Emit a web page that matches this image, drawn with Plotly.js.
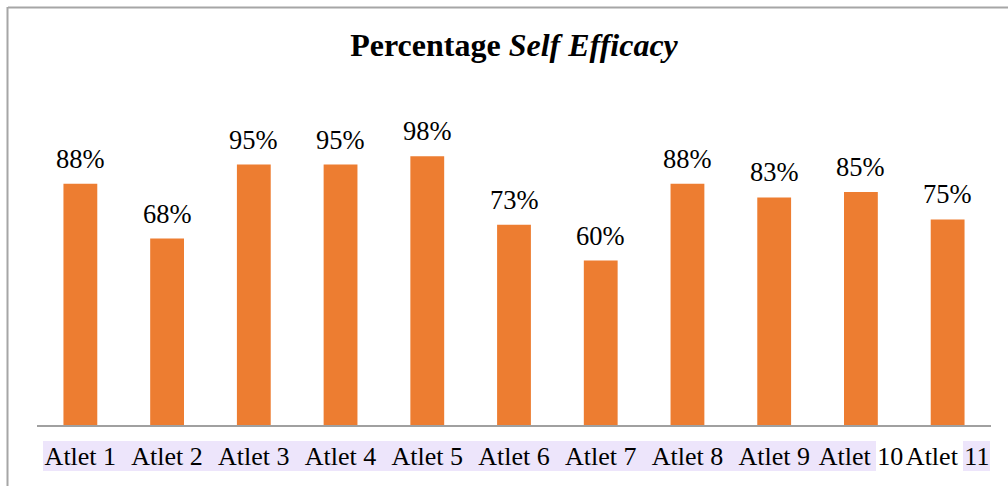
<!DOCTYPE html>
<html>
<head>
<meta charset="utf-8">
<script src="https://cdn.plot.ly/plotly-3.0.1.min.js"></script>
<style>html,body{margin:0;padding:0;background:#fff;}#chart{width:1008px;height:486px;}</style>
</head>
<body>
<div id="chart"></div>
<script>
const categories = ["Atlet 1","Atlet 2","Atlet 3","Atlet 4","Atlet 5","Atlet 6","Atlet 7","Atlet 8","Atlet 9","Atlet 10","Atlet 11"];
const values = [0.88,0.68,0.95,0.95,0.98,0.73,0.60,0.88,0.83,0.85,0.75];
const valueLabels = ["88%","68%","95%","95%","98%","73%","60%","88%","83%","85%","75%"];
const titleText = "<b>Percentage <i>Self Efficacy</i></b>";

const serif = "Liberation Serif";

const trace = {
  type: "bar",
  x: categories,
  y: values,
  marker: {color: "#ED7D31"},
  hoverinfo: "skip"
};

const annotations = categories.map((c, i) => ({
  x: c, y: values[i], xref: "x", yref: "y",
  text: valueLabels[i], showarrow: false,
  yanchor: "bottom", yshift: 8,
  font: {family: serif, size: 26.5, color: "#000"}
}));

const layout = {
  width: 1008, height: 486,
  margin: {l: 37, r: 17, t: 96, b: 61},
  paper_bgcolor: "#fff", plot_bgcolor: "#fff",
  showlegend: false,
  bargap: 0.61,
  font: {family: serif},
  title: {text: titleText, x: 0.5, xref: "paper", y: 0.907, yref: "container", yanchor: "middle",
          font: {family: serif, size: 32, color: "#000"}},
  xaxis: {
    type: "category", showgrid: false, zeroline: false,
    showline: true, linecolor: "#A0A0A0", linewidth: 2,
    ticks: "", tickangle: 0, ticklabelstandoff: 7,
    tickfont: {family: serif, size: 26, color: "#000"}
  },
  yaxis: {
    range: [0, 1.2], visible: false, showgrid: false, zeroline: false, fixedrange: true
  },
  annotations: annotations,
  shapes: [
    {type: "rect", xref: "paper", yref: "paper", x0: (43-37)/954, x1: (876-37)/954,
     y0: (425-471)/329, y1: (425-441)/329, fillcolor: "#EDE5FB", line: {width: 0}, layer: "below"},
    {type: "rect", xref: "paper", yref: "paper", x0: (963-37)/954, x1: (990-37)/954,
     y0: (425-471)/329, y1: (425-441)/329, fillcolor: "#EDE5FB", line: {width: 0}, layer: "below"},
    {type: "line", xref: "paper", yref: "paper", x0: (8-37)/954, x1: (1010-37)/954,
     y0: (425-7.5)/329, y1: (425-7.5)/329, line: {color: "#A6A6A6", width: 2}},
    {type: "line", xref: "paper", yref: "paper", x0: (7.5-37)/954, x1: (7.5-37)/954,
     y0: (425-7)/329, y1: (425-490)/329, line: {color: "#A6A6A6", width: 2}}
  ]
};

Plotly.newPlot("chart", [trace], layout, {displayModeBar: false, staticPlot: true});
</script>
</body>
</html>
